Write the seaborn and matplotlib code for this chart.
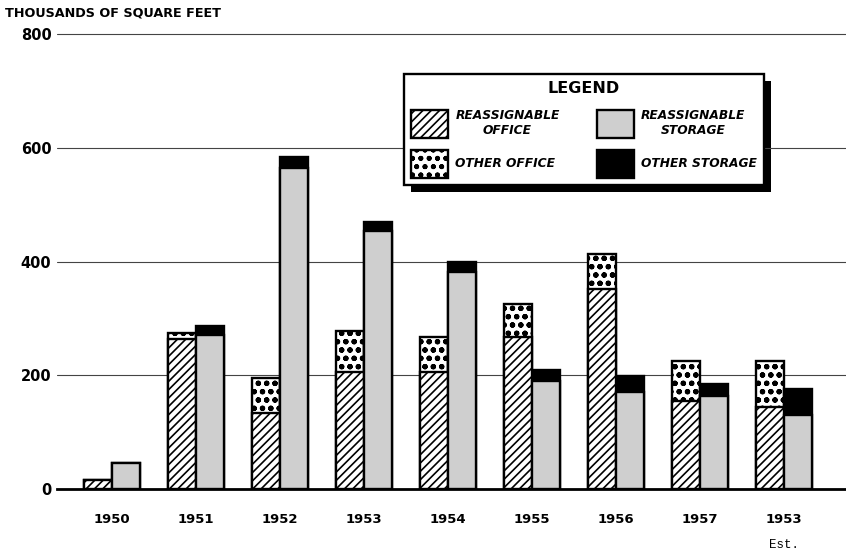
import numpy as np
import pandas as pd
import matplotlib
matplotlib.use('Agg')
import matplotlib.pyplot as plt
from matplotlib.patches import Patch, Rectangle
import seaborn as sns

# values (thousands of square feet)
years = ['1950', '1951', '1952', '1953', '1954', '1955', '1956', '1957', '1958']
tick_labels = ['1950', '1951', '1952', '1953', '1954', '1955', '1956', '1957', '1953']
reassign_office = [15, 263, 133, 205, 205, 268, 352, 154, 144]
other_office = [0, 12, 63, 72, 62, 57, 61, 71, 81]
reassign_storage = [46, 270, 564, 453, 381, 190, 170, 163, 131]
other_storage = [0, 16, 19, 16, 18, 20, 28, 21, 44]

sns.set_theme(style='white')
plt.rcParams['font.family'] = ['DejaVu Sans']
plt.rcParams['text.color'] = 'black'
plt.rcParams['xtick.color'] = 'black'
plt.rcParams['ytick.color'] = 'black'
plt.rcParams['hatch.linewidth'] = 1.2

GRAY = '#cfcfcf'
DOTS = 'oo..'

# totals (top of each stack) and bases
tot = pd.DataFrame({
    'year': years * 2,
    'kind': ['office'] * 9 + ['storage'] * 9,
    'value': list(np.add(reassign_office, other_office)) + list(np.add(reassign_storage, other_storage)),
})
base = pd.DataFrame({
    'year': years * 2,
    'kind': ['office'] * 9 + ['storage'] * 9,
    'value': reassign_office + reassign_storage,
})

fig = plt.figure(figsize=(8.46, 5.51), dpi=100)
ax = fig.add_axes([57 / 846, 0.1125, 1 - 57 / 846, 0.9486 - 0.1125])

kw = dict(x='year', y='value', hue='kind', order=years, hue_order=['office', 'storage'],
          width=2 / 3, gap=0, saturation=1, edgecolor='black', linewidth=1.7,
          legend=False, ax=ax)
sns.barplot(data=tot, palette=['white', 'black'], **kw)
sns.barplot(data=base, palette=['white', GRAY], **kw)

# patterns: other office = dots, reassignable office = diagonal hatch
for bar in ax.containers[0]:
    bar.set_hatch(DOTS)
    if hasattr(bar, 'set_hatch_linewidth'):
        bar.set_hatch_linewidth(1.5)
for bar in ax.containers[2]:
    bar.set_hatch('////')

ax.set_xlim(-0.655, 8.74)
ax.set_ylim(0, 810)
ax.set_yticks([0, 200, 400, 600, 800])
ax.set_yticklabels(['0', '200', '400', '600', '800'], fontsize=10.5, fontweight='bold')
ax.set_xticks(range(9))
ax.set_xticklabels(tick_labels, fontsize=9.5, fontweight='bold')
ax.tick_params(axis='y', length=0, pad=4)
ax.tick_params(axis='x', length=0, pad=17)
ax.set_xlabel('')
ax.set_ylabel('')
ax.yaxis.grid(True, color='#444444', linewidth=0.8)
ax.set_axisbelow(True)
for s in ['top', 'right', 'left']:
    ax.spines[s].set_visible(False)
ax.spines['bottom'].set_linewidth(2)
ax.spines['bottom'].set_color('black')

ax.text(8, -0.122, 'Est.', transform=ax.get_xaxis_transform(), ha='center', va='center',
        fontsize=9, family='Liberation Mono')

fig.text(5 / 846, 1 - 13 / 551, 'THOUSANDS OF SQUARE FEET', ha='left', va='center',
         fontsize=9.2, fontweight='bold')

handles = [
    Patch(facecolor='white', edgecolor='black', hatch='////', linewidth=1.7, label='REASSIGNABLE\nOFFICE'),
    Patch(facecolor='white', edgecolor='black', hatch=DOTS, linewidth=1.7, label='OTHER OFFICE'),
    Patch(facecolor=GRAY, edgecolor='black', linewidth=1.7, label='REASSIGNABLE\nSTORAGE'),
    Patch(facecolor='black', edgecolor='black', linewidth=1.7, label='OTHER STORAGE'),
]
leg = ax.legend(handles=handles, ncol=2, title='LEGEND', loc='upper left',
                bbox_to_anchor=(0.432, 0.914, 0.472, 0.0), mode='expand',
                prop={'weight': 'bold', 'style': 'italic', 'size': 8.8},
                title_fontproperties={'weight': 'bold', 'size': 11.5},
                handlelength=3.0, handleheight=3.1, handletextpad=0.6,
                columnspacing=1.2, labelspacing=1.0, borderpad=0.6,
                fancybox=False, framealpha=1, edgecolor='black')
leg.get_frame().set_linewidth(1.7)
for t in leg.get_texts():
    t.set_multialignment('center')

# drop shadow behind the legend box
fig.canvas.draw()
bb = leg.get_window_extent().transformed(fig.transFigure.inverted())
off_x, off_y = 7 / 846, 7 / 551
fig.add_artist(Rectangle((bb.x0 + off_x, bb.y0 - off_y), bb.width, bb.height,
                         transform=fig.transFigure, facecolor='black', edgecolor='none',
                         zorder=-1))
ax.set_facecolor('none')

fig.savefig('out.png', dpi=100)
